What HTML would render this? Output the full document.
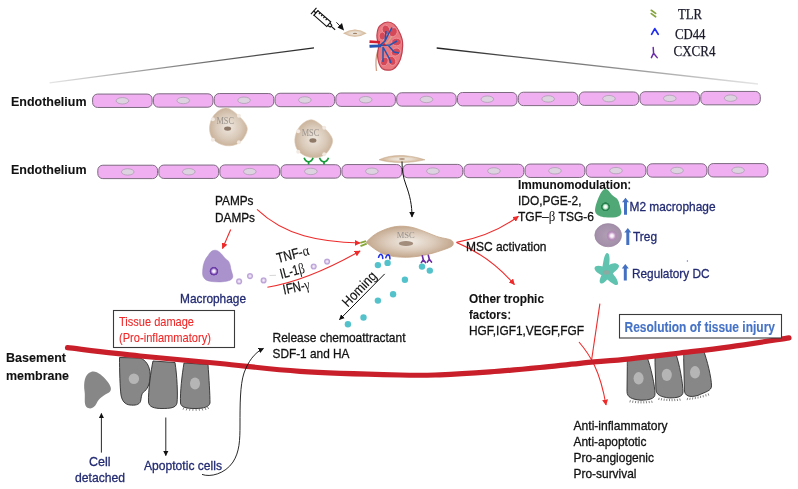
<!DOCTYPE html>
<html><head><meta charset="utf-8"><style>
html,body{margin:0;padding:0;background:#fff;}
svg{display:block;filter:blur(0.3px);}
</style></head><body>
<svg width="798" height="489" viewBox="0 0 798 489">

<defs>
<linearGradient id="lgL" gradientUnits="userSpaceOnUse" x1="49" y1="83" x2="314" y2="48"><stop offset="0" stop-color="#e6e6e6"/><stop offset="1" stop-color="#222"/></linearGradient>
<linearGradient id="lgR" gradientUnits="userSpaceOnUse" x1="437" y1="48" x2="758" y2="84"><stop offset="0" stop-color="#222"/><stop offset="1" stop-color="#e6e6e6"/></linearGradient>
<radialGradient id="msc" cx="0.5" cy="0.5" r="0.55"><stop offset="0" stop-color="#efe8e0"/><stop offset="0.6" stop-color="#d9c9b8"/><stop offset="1" stop-color="#c6ad94"/></radialGradient>
<radialGradient id="mscL" cx="0.5" cy="0.5" r="0.5"><stop offset="0" stop-color="#f2ede6"/><stop offset="0.55" stop-color="#dccbbb"/><stop offset="1" stop-color="#c3a78d"/></radialGradient>
<radialGradient id="spin" cx="0.5" cy="0.5" r="0.5"><stop offset="0" stop-color="#f2eee9"/><stop offset="0.45" stop-color="#e6dacb"/><stop offset="1" stop-color="#cfac88"/></radialGradient>
<radialGradient id="ring" cx="0.5" cy="0.5" r="0.5"><stop offset="0" stop-color="#f8f4fc"/><stop offset="0.35" stop-color="#e4d6f0"/><stop offset="0.75" stop-color="#b9a0d6"/><stop offset="1" stop-color="#c8b4e0"/></radialGradient>
<radialGradient id="mnuc" cx="0.5" cy="0.5" r="0.5"><stop offset="0" stop-color="#ffffff"/><stop offset="0.3" stop-color="#e6dcf2"/><stop offset="0.55" stop-color="#a580cc"/><stop offset="0.7" stop-color="#6a3ea6"/><stop offset="0.9" stop-color="#6a3ea6"/><stop offset="1" stop-color="#a68cc9"/></radialGradient>
<radialGradient id="gnuc" cx="0.5" cy="0.5" r="0.5"><stop offset="0" stop-color="#ffffff"/><stop offset="0.3" stop-color="#eef8f0"/><stop offset="0.55" stop-color="#8ccaa4"/><stop offset="0.7" stop-color="#2a8250"/><stop offset="0.92" stop-color="#2a8250"/><stop offset="1" stop-color="#4fa876"/></radialGradient>
<radialGradient id="treg" cx="0.5" cy="0.5" r="0.5"><stop offset="0" stop-color="#b2a0b6"/><stop offset="1" stop-color="#a28ea8"/></radialGradient>
<radialGradient id="tnuc" cx="0.5" cy="0.5" r="0.5"><stop offset="0" stop-color="#ffffff"/><stop offset="0.3" stop-color="#f4e8f4"/><stop offset="0.7" stop-color="#b990bd"/><stop offset="1" stop-color="#a889ac"/></radialGradient>
<marker id="ah" viewBox="0 0 10 10" refX="9" refY="5" markerWidth="7" markerHeight="7" orient="auto" markerUnits="userSpaceOnUse"><path d="M0,0 L10,5 L0,10 z" fill="#111"/></marker>
<marker id="ahr" viewBox="0 0 10 10" refX="9" refY="5" markerWidth="6" markerHeight="6" orient="auto" markerUnits="userSpaceOnUse"><path d="M0,0 L10,5 L0,10 z" fill="#ee2b2b"/></marker>
<marker id="ahb" viewBox="0 0 10 10" refX="9" refY="5" markerWidth="5.5" markerHeight="5.5" orient="auto" markerUnits="userSpaceOnUse"><path d="M0,0 L10,5 L0,10 z" fill="#111"/></marker>
</defs>
<line x1="49.6" y1="82.9" x2="314" y2="47.8" stroke="url(#lgL)" stroke-width="1.3"/>
<line x1="436.7" y1="48" x2="758" y2="84" stroke="url(#lgR)" stroke-width="1.3"/>
<rect x="92.60" y="94.07" width="59.52" height="13.4" rx="5" ry="5" fill="#efaff1" stroke="#7d6a80" stroke-width="1"/>
<ellipse cx="122.41" cy="100.77" rx="6.3" ry="3.2" fill="#ddd3e0" stroke="#a898ac" stroke-width="0.7"/>
<rect x="153.42" y="93.80" width="59.52" height="13.4" rx="5" ry="5" fill="#efaff1" stroke="#7d6a80" stroke-width="1"/>
<ellipse cx="183.23" cy="100.50" rx="6.3" ry="3.2" fill="#ddd3e0" stroke="#a898ac" stroke-width="0.7"/>
<rect x="214.24" y="93.54" width="59.52" height="13.4" rx="5" ry="5" fill="#efaff1" stroke="#7d6a80" stroke-width="1"/>
<ellipse cx="244.05" cy="100.24" rx="6.3" ry="3.2" fill="#ddd3e0" stroke="#a898ac" stroke-width="0.7"/>
<rect x="275.05" y="93.28" width="59.52" height="13.4" rx="5" ry="5" fill="#efaff1" stroke="#7d6a80" stroke-width="1"/>
<ellipse cx="304.86" cy="99.98" rx="6.3" ry="3.2" fill="#ddd3e0" stroke="#a898ac" stroke-width="0.7"/>
<rect x="335.87" y="93.01" width="59.52" height="13.4" rx="5" ry="5" fill="#efaff1" stroke="#7d6a80" stroke-width="1"/>
<ellipse cx="365.68" cy="99.71" rx="6.3" ry="3.2" fill="#ddd3e0" stroke="#a898ac" stroke-width="0.7"/>
<rect x="396.69" y="92.75" width="59.52" height="13.4" rx="5" ry="5" fill="#efaff1" stroke="#7d6a80" stroke-width="1"/>
<ellipse cx="426.50" cy="99.45" rx="6.3" ry="3.2" fill="#ddd3e0" stroke="#a898ac" stroke-width="0.7"/>
<rect x="457.51" y="92.49" width="59.52" height="13.4" rx="5" ry="5" fill="#efaff1" stroke="#7d6a80" stroke-width="1"/>
<ellipse cx="487.32" cy="99.19" rx="6.3" ry="3.2" fill="#ddd3e0" stroke="#a898ac" stroke-width="0.7"/>
<rect x="518.33" y="92.22" width="59.52" height="13.4" rx="5" ry="5" fill="#efaff1" stroke="#7d6a80" stroke-width="1"/>
<ellipse cx="548.14" cy="98.92" rx="6.3" ry="3.2" fill="#ddd3e0" stroke="#a898ac" stroke-width="0.7"/>
<rect x="579.15" y="91.96" width="59.52" height="13.4" rx="5" ry="5" fill="#efaff1" stroke="#7d6a80" stroke-width="1"/>
<ellipse cx="608.95" cy="98.66" rx="6.3" ry="3.2" fill="#ddd3e0" stroke="#a898ac" stroke-width="0.7"/>
<rect x="639.96" y="91.70" width="59.52" height="13.4" rx="5" ry="5" fill="#efaff1" stroke="#7d6a80" stroke-width="1"/>
<ellipse cx="669.77" cy="98.40" rx="6.3" ry="3.2" fill="#ddd3e0" stroke="#a898ac" stroke-width="0.7"/>
<rect x="700.78" y="91.43" width="59.52" height="13.4" rx="5" ry="5" fill="#efaff1" stroke="#7d6a80" stroke-width="1"/>
<ellipse cx="730.59" cy="98.13" rx="6.3" ry="3.2" fill="#ddd3e0" stroke="#a898ac" stroke-width="0.7"/>
<rect x="97.80" y="165.22" width="59.74" height="13.4" rx="5" ry="5" fill="#efaff1" stroke="#7d6a80" stroke-width="1"/>
<ellipse cx="127.72" cy="171.92" rx="6.3" ry="3.2" fill="#ddd3e0" stroke="#a898ac" stroke-width="0.7"/>
<rect x="158.84" y="165.05" width="59.74" height="13.4" rx="5" ry="5" fill="#efaff1" stroke="#7d6a80" stroke-width="1"/>
<ellipse cx="188.75" cy="171.75" rx="6.3" ry="3.2" fill="#ddd3e0" stroke="#a898ac" stroke-width="0.7"/>
<rect x="219.87" y="164.89" width="59.74" height="13.4" rx="5" ry="5" fill="#efaff1" stroke="#7d6a80" stroke-width="1"/>
<ellipse cx="249.79" cy="171.59" rx="6.3" ry="3.2" fill="#ddd3e0" stroke="#a898ac" stroke-width="0.7"/>
<rect x="280.91" y="164.73" width="59.74" height="13.4" rx="5" ry="5" fill="#efaff1" stroke="#7d6a80" stroke-width="1"/>
<ellipse cx="310.83" cy="171.43" rx="6.3" ry="3.2" fill="#ddd3e0" stroke="#a898ac" stroke-width="0.7"/>
<rect x="341.95" y="164.56" width="59.74" height="13.4" rx="5" ry="5" fill="#efaff1" stroke="#7d6a80" stroke-width="1"/>
<ellipse cx="371.86" cy="171.26" rx="6.3" ry="3.2" fill="#ddd3e0" stroke="#a898ac" stroke-width="0.7"/>
<rect x="402.98" y="164.40" width="59.74" height="13.4" rx="5" ry="5" fill="#efaff1" stroke="#7d6a80" stroke-width="1"/>
<ellipse cx="432.90" cy="171.10" rx="6.3" ry="3.2" fill="#ddd3e0" stroke="#a898ac" stroke-width="0.7"/>
<rect x="464.02" y="164.24" width="59.74" height="13.4" rx="5" ry="5" fill="#efaff1" stroke="#7d6a80" stroke-width="1"/>
<ellipse cx="493.94" cy="170.94" rx="6.3" ry="3.2" fill="#ddd3e0" stroke="#a898ac" stroke-width="0.7"/>
<rect x="525.05" y="164.07" width="59.74" height="13.4" rx="5" ry="5" fill="#efaff1" stroke="#7d6a80" stroke-width="1"/>
<ellipse cx="554.97" cy="170.77" rx="6.3" ry="3.2" fill="#ddd3e0" stroke="#a898ac" stroke-width="0.7"/>
<rect x="586.09" y="163.91" width="59.74" height="13.4" rx="5" ry="5" fill="#efaff1" stroke="#7d6a80" stroke-width="1"/>
<ellipse cx="616.01" cy="170.61" rx="6.3" ry="3.2" fill="#ddd3e0" stroke="#a898ac" stroke-width="0.7"/>
<rect x="647.13" y="163.75" width="59.74" height="13.4" rx="5" ry="5" fill="#efaff1" stroke="#7d6a80" stroke-width="1"/>
<ellipse cx="677.05" cy="170.45" rx="6.3" ry="3.2" fill="#ddd3e0" stroke="#a898ac" stroke-width="0.7"/>
<rect x="708.16" y="163.58" width="59.74" height="13.4" rx="5" ry="5" fill="#efaff1" stroke="#7d6a80" stroke-width="1"/>
<ellipse cx="738.08" cy="170.28" rx="6.3" ry="3.2" fill="#ddd3e0" stroke="#a898ac" stroke-width="0.7"/>
<path d="M651.3,10.3 L655.6,13.4 M651.3,13.6 L655.6,16.8" stroke="#86a43e" stroke-width="1.7" stroke-linecap="round"/>
<path d="M651.6,34.3 L654.8,28.6 L658.2,34.3" stroke="#1f2ef0" stroke-width="1.7" fill="none" stroke-linecap="round" stroke-linejoin="round"/>
<path d="M653.2,47.5 L653.6,53.2 M653.6,53.2 L651.4,57.6 M653.6,53.2 L657.2,57.6" stroke="#6a2ca8" stroke-width="1.5" fill="none" stroke-linecap="round"/>
<g transform="translate(313.7,11) rotate(41.2)" fill="none" stroke="#111" stroke-width="1.1"><line x1="0" y1="-4.2" x2="0" y2="4.2"/><line x1="0" y1="0" x2="3" y2="0"/><line x1="3" y1="-3.6" x2="3" y2="3.6"/><rect x="3" y="-3" width="17" height="6" fill="#fff"/><path d="M6,-3 v2 M9,-3 v2 M12,-3 v2 M15,-3 v2"/><path d="M20,-1.8 L23,-1.2 L23,1.2 L20,1.8"/><line x1="23" y1="0" x2="28.5" y2="0"/></g>
<line x1="336.4" y1="22.3" x2="340" y2="26" stroke="#111" stroke-width="0.9"/>
<path d="M344,30.5 L337.5,27.5 L342,23 z" fill="#111"/>
<path d="M343,33.2 Q355,26 366.7,33.2 Q355,40.4 343,33.2 z" fill="url(#spin)"/>
<ellipse cx="355" cy="33.4" rx="2.2" ry="0.6" fill="#a08060"/>
<path d="M378,50 C376,56 375.5,64 376.5,71" stroke="#d0a088" stroke-width="1.3" fill="none"/>
<path d="M387.8,22 C393,22 397,27 399.2,31.7 C401.5,36 402.8,41 402.7,45.5 C402.6,51 401.8,55 400.4,59.2 C398.5,64 394.5,69.5 390,70.1 C386.5,70.5 384,69.8 382,68.4 C379.5,66 378,61 377.5,55.8 C377.3,52 378.6,49.5 378.6,46.6 C378.6,43 376.6,39.5 376.9,35.2 C377.2,30 378.2,26.5 380.9,24.9 C383,23 385.5,22 387.8,22 z" fill="#e9787f" stroke="#c04050" stroke-width="1.2"/>
<ellipse cx="386" cy="29.8" rx="3.8" ry="4.8" transform="rotate(-20 386 29.8)" fill="#d44858" stroke="#f09aa2" stroke-width="0.8"/>
<ellipse cx="393.2" cy="32.2" rx="3.8" ry="4.8" transform="rotate(30 393.2 32.2)" fill="#d44858" stroke="#f09aa2" stroke-width="0.8"/>
<ellipse cx="396.5" cy="42" rx="4.8" ry="3.8" transform="rotate(0 396.5 42)" fill="#d44858" stroke="#f09aa2" stroke-width="0.8"/>
<ellipse cx="395.8" cy="52" rx="4.8" ry="3.8" transform="rotate(-25 395.8 52)" fill="#d44858" stroke="#f09aa2" stroke-width="0.8"/>
<ellipse cx="391.8" cy="60.8" rx="3.8" ry="4.8" transform="rotate(-30 391.8 60.8)" fill="#d44858" stroke="#f09aa2" stroke-width="0.8"/>
<ellipse cx="384.4" cy="61.5" rx="3.5" ry="4.5" transform="rotate(20 384.4 61.5)" fill="#d44858" stroke="#f09aa2" stroke-width="0.8"/>
<ellipse cx="382.3" cy="36" rx="3.2" ry="4" transform="rotate(0 382.3 36)" fill="#d44858" stroke="#f09aa2" stroke-width="0.8"/>
<path d="M382,46 L386,44.5 L391,47 M385,45 C388,42 390,40 392,36" stroke="#d4a488" stroke-width="1.6" fill="none"/>
<path d="M370,46.5 L380,45.5 L385,41 L389,33 L392,27.5 M385,41 L386,31 M380,45.5 L390,45 L397,41 M388,45 L394,52 L399,53 M383,47 L389,58 L391,63 M383,47 L383,62" stroke="#2355b0" stroke-width="1.5" fill="none"/>
<path d="M369.5,46.3 L381,45.8" stroke="#2355b0" stroke-width="3"/>
<path d="M369.5,41.6 L380,42.3" stroke="#d41f30" stroke-width="2.8"/>
<path d="M369.5,43.7 L378,44" stroke="#f3f3f8" stroke-width="0.8"/>
<circle cx="384" cy="44.5" r="1.3" fill="#d41f30"/>
<path d="M226.00,107.90 C221.93,107.72 217.05,111.52 214.30,114.80 C211.55,118.08 209.68,123.52 209.50,127.60 C209.32,131.68 210.45,136.28 213.20,139.30 C215.95,142.32 221.57,145.17 226.00,145.70 C230.43,146.23 236.25,145.35 239.80,142.50 C243.35,139.65 247.48,133.03 247.30,128.60 C247.12,124.17 242.25,119.35 238.70,115.90 C235.15,112.45 230.07,108.08 226.00,107.90 z" fill="url(#msc)" stroke="#dcc8b2" stroke-width="0.6"/>
<circle cx="212.9" cy="119.3" r="2" fill="#f1e9e2"/>
<circle cx="238.9" cy="115.8" r="2" fill="#f1e9e2"/>
<circle cx="212.9" cy="139.8" r="2" fill="#f1e9e2"/>
<circle cx="238.9" cy="142.3" r="2" fill="#f1e9e2"/>
<ellipse cx="227.6" cy="128.6" rx="3.5" ry="2.2" fill="#8e7868"/>
<text x="225.20000000000002" y="123.8" font-family="Liberation Serif" font-size="9.5" fill="#9a948e" text-anchor="middle" textLength="17.6" lengthAdjust="spacingAndGlyphs">MSC</text>
<path d="M311.30,119.80 C307.23,119.62 302.35,123.42 299.60,126.70 C296.85,129.98 294.98,135.42 294.80,139.50 C294.62,143.58 295.75,148.18 298.50,151.20 C301.25,154.22 306.87,157.07 311.30,157.60 C315.73,158.13 321.55,157.25 325.10,154.40 C328.65,151.55 332.78,144.93 332.60,140.50 C332.42,136.07 327.55,131.25 324.00,127.80 C320.45,124.35 315.37,119.98 311.30,119.80 z" fill="url(#msc)" stroke="#dcc8b2" stroke-width="0.6"/>
<circle cx="298.2" cy="131.2" r="2" fill="#f1e9e2"/>
<circle cx="324.2" cy="127.69999999999999" r="2" fill="#f1e9e2"/>
<circle cx="298.2" cy="151.7" r="2" fill="#f1e9e2"/>
<circle cx="324.2" cy="154.2" r="2" fill="#f1e9e2"/>
<ellipse cx="312.9" cy="140.5" rx="3.5" ry="2.2" fill="#8e7868"/>
<text x="310.5" y="135.7" font-family="Liberation Serif" font-size="9.5" fill="#9a948e" text-anchor="middle" textLength="17.6" lengthAdjust="spacingAndGlyphs">MSC</text>
<path d="M304.1,157.8 Q305.6,161.8 308.6,161.8 Q311.6,161.8 313.1,157.8 M308.6,161.5 L308.6,164.5" stroke="#179a3a" stroke-width="1.7" fill="none"/>
<path d="M319.5,157.8 Q321,161.8 324,161.8 Q327,161.8 328.5,157.8 M324,161.5 L324,164.5" stroke="#179a3a" stroke-width="1.7" fill="none"/>
<path d="M379,159.8 C388,155.5 398,155 408,156 C416,157 421,158.5 425,159.8 C418,161.5 408,162.8 400,162.6 C392,162.4 385,161.5 379,159.8 z" fill="url(#spin)" stroke="#c4aa90" stroke-width="0.5"/>
<ellipse cx="402" cy="159" rx="3" ry="0.9" fill="#b59a84"/>
<path d="M402,161.5 C402,170 403,177 406,185 C410,196 412,205 412,217" stroke="#111" stroke-width="1" fill="none" marker-end="url(#ahb)"/>
<path d="M366.2,242.3 C370,238 375,233.5 381.3,231 C388,228 394,226.3 400,226.2 C406,226.1 410,226.8 414.2,227.9 C421,229.8 429,233.5 436.6,236.4 C444,239 452.5,238.5 453.2,242.5 C453.8,246 451,247 447,248.5 C440,251 434,253 428.7,254.2 C421,256 413,257.3 406.3,257.3 C398,257.3 391,256.5 385.3,254.6 C378,252 371,246.5 366.2,242.3 z" fill="url(#mscL)" stroke="#c4a486" stroke-width="0.8"/>
<ellipse cx="406" cy="243.4" rx="7.2" ry="2.5" fill="#a28c7c"/>
<text x="405.8" y="237.7" font-family="Liberation Serif" font-size="9" fill="#96918c" text-anchor="middle" textLength="18" lengthAdjust="spacingAndGlyphs">MSC</text>
<path d="M360.3,242.8 L366,241.2 M360.5,246.1 L366.7,243.6" stroke="#86a83a" stroke-width="1.9"/>
<path d="M378.6,257.3 Q379.6,253.8 381.1,254.20000000000002 Q382.6,254.8 382.8,258.40000000000003" stroke="#2030e8" stroke-width="1.5" fill="none" stroke-linecap="round"/>
<path d="M385.8,257.8 Q386.8,254.3 388.3,254.70000000000002 Q389.8,255.3 390,258.90000000000003" stroke="#2030e8" stroke-width="1.5" fill="none" stroke-linecap="round"/>
<path d="M422.3,255.8 L423.3,259.8 M423.3,259.8 L421.3,262.6 M423.3,259.8 L425.5,262.6" stroke="#6a2aa0" stroke-width="1.6" fill="none" stroke-linecap="round"/>
<path d="M428.3,255.3 L429.3,259.3 M429.3,259.3 L427.3,262.1 M429.3,259.3 L431.5,262.1" stroke="#6a2aa0" stroke-width="1.6" fill="none" stroke-linecap="round"/>
<circle cx="377.9" cy="265.1" r="3.2" fill="#54c2cb"/>
<circle cx="387.6" cy="262.9" r="3.2" fill="#54c2cb"/>
<circle cx="422" cy="266.6" r="3.2" fill="#54c2cb"/>
<circle cx="429.8" cy="270.6" r="3.2" fill="#54c2cb"/>
<circle cx="404.9" cy="279.8" r="3.2" fill="#54c2cb"/>
<circle cx="393.1" cy="294.2" r="3.2" fill="#54c2cb"/>
<circle cx="377.9" cy="300.6" r="3.2" fill="#54c2cb"/>
<circle cx="363.5" cy="317.5" r="3.2" fill="#54c2cb"/>
<circle cx="347.9" cy="324.2" r="3.2" fill="#54c2cb"/>
<line x1="384.7" y1="273.9" x2="339.5" y2="319.7" stroke="#111" stroke-width="1" marker-end="url(#ahb)"/>
<path d="M214.9,250.2 C218,250 221,253 224.7,257.9 C227,260 230,260.5 230.8,268.6 C231.5,272 233,275 232.8,277 C232,281 226,281.5 220.6,281.9 C214,282 209,281.5 206,280 C202,277 202.5,274 202.7,270 C203,264 205,259 208.3,255.3 C210,252 212,250.3 214.9,250.2 z" fill="#aa92cd" stroke="#9c84c0" stroke-width="0.5"/>
<circle cx="213.9" cy="271.2" r="4.6" fill="url(#mnuc)"/>
<circle cx="239.1" cy="281.4" r="3.1" fill="url(#ring)"/>
<circle cx="250" cy="276.1" r="3.1" fill="url(#ring)"/>
<circle cx="263.6" cy="280.4" r="3.1" fill="url(#ring)"/>
<circle cx="313.7" cy="266.5" r="3.1" fill="url(#ring)"/>
<circle cx="327.1" cy="261.6" r="3.1" fill="url(#ring)"/>
<line x1="269.5" y1="275.5" x2="276" y2="275.3" stroke="#cccccc" stroke-width="0.8"/>
<path d="M257,209.4 C285,236 320,242 360,243" stroke="#ee2b2b" stroke-width="1.1" fill="none" marker-end="url(#ahr)"/>
<line x1="230.7" y1="229.5" x2="222.5" y2="248.5" stroke="#ee2b2b" stroke-width="1.1" marker-end="url(#ahr)"/>
<path d="M267.4,287.2 C300,282 330,268 360.1,251" stroke="#ee2b2b" stroke-width="1.1" fill="none" marker-end="url(#ahr)"/>
<path d="M456.5,242.4 C480,238 500,230 518.4,216.3" stroke="#ee2b2b" stroke-width="1.1" fill="none" marker-end="url(#ahr)"/>
<path d="M456.5,242.4 C475,250 495,262 514.4,284.6" stroke="#ee2b2b" stroke-width="1.1" fill="none" marker-end="url(#ahr)"/>
<line x1="599.9" y1="303.7" x2="591.6" y2="360" stroke="#ee2b2b" stroke-width="1.1"/>
<path d="M579,342 C590,355 600,370 606,405" stroke="#ee2b2b" stroke-width="1.1" fill="none" marker-end="url(#ahr)"/>
<path d="M605.2,189.1 C607,189 608.5,190.5 610,192.5 C612,195.5 614.5,197 616.8,198.5 C619,200.5 620,206 621.3,211 C622,214 620,216.5 616,217.2 C612,217.8 608,217.6 605.5,217.3 C601,217 596.5,215.5 595.3,212 C594.5,209 596,204 598,199 C600,194.5 602.5,189.2 605.2,189.1 z" fill="#4fa876"/>
<circle cx="605.5" cy="206.8" r="4.7" fill="url(#gnuc)"/>
<ellipse cx="608.2" cy="235.2" rx="13.4" ry="11.6" fill="url(#treg)" stroke="#9a84a0" stroke-width="0.6"/>
<circle cx="611.9" cy="235.8" r="5.2" fill="url(#tnuc)"/>
<path d="M607.3,253 C610,253.5 609.8,259 609.2,265 C612,263 616,262 618.8,265.2 C620,268 615,271.5 612.8,273.5 C615,276.5 619,281 617.8,284.6 C615.5,286.5 610.5,282 607.2,279.5 C605,282 602.5,284.5 600.5,283.2 C598.5,281.5 600.5,277.5 601.5,275.2 C598.5,273.5 594.5,271 594.5,268.2 C595,265 599.5,265.5 602.5,266.5 C603.5,261 604.5,252.8 607.3,253 z" fill="#5fc3af"/>
<ellipse cx="606.4" cy="272.4" rx="3.6" ry="2.2" fill="#8aaaa2"/>
<path d="M624.0,214.7 L624.0,202.3 L622.0,202.3 L625.5,197.8 L629.0,202.3 L627.0,202.3 L627.0,214.7 z" fill="#4470c2"/>
<path d="M626.3,245 L626.3,232.4 L624.3,232.4 L627.8,227.9 L631.3,232.4 L629.3,232.4 L629.3,245 z" fill="#4470c2"/>
<path d="M623.8,280.6 L623.8,268.4 L621.8,268.4 L625.3,263.9 L628.8,268.4 L626.8,268.4 L626.8,280.6 z" fill="#4470c2"/>
<circle cx="687.4" cy="261" r="0.7" fill="#5a7ac8"/>
<path d="M627.3,360.3 L646.8,356.5 C650.8,366.5 655,386 655,394 C655,399 649,400 641.0,400.2 C632,399.4 627,397.4 627,391.4 L627.3,366.3 C627.3,362.3 627.3,360.3 627.3,360.3 z" fill="#878787" stroke="#2e2e2e" stroke-width="0.9"/>
<ellipse cx="638.6" cy="378.3" rx="5" ry="6.2" fill="#b5b5b5"/>
<path d="M630.4,400.2 l-0.57,2.2 M633.0,400.6 l-0.43,2.2 M635.7,400.9 l-0.29,2.2 M638.3,401.1 l-0.14,2.2 M641.0,401.2 l0.00,2.2 M643.7,401.2 l0.14,2.2 M646.3,401.1 l0.29,2.2 M649.0,400.9 l0.43,2.2 M651.6,400.7 l0.57,2.2 " stroke="#333" stroke-width="0.6" fill="none"/>
<path d="M655,356.5 L675.4,352.8 C679.4,362.8 683,383.9 683,391.9 C683,396.9 677,397.9 669.45,397.95 C660.9,397 655.9,395 655.9,389 L655,362.5 C655,358.5 655,356.5 655,356.5 z" fill="#878787" stroke="#2e2e2e" stroke-width="0.9"/>
<ellipse cx="666.8" cy="374.9" rx="5" ry="6.2" fill="#b5b5b5"/>
<path d="M659.2,397.8 l-0.57,2.2 M661.7,398.2 l-0.43,2.2 M664.3,398.6 l-0.29,2.2 M666.9,398.8 l-0.14,2.2 M669.5,398.9 l0.00,2.2 M672.0,399.0 l0.14,2.2 M674.6,398.9 l0.29,2.2 M677.2,398.8 l0.43,2.2 M679.7,398.5 l0.57,2.2 " stroke="#333" stroke-width="0.6" fill="none"/>
<path d="M683.7,352.8 L703.2,349.8 C707.2,359.8 711.5,377.9 711.5,385.9 C711.5,390.9 705.5,391.9 697.95,395.4 C689.4,397.9 684.4,395.9 684.4,389.9 L683.7,358.8 C683.7,354.8 683.7,352.8 683.7,352.8 z" fill="#878787" stroke="#2e2e2e" stroke-width="0.9"/>
<ellipse cx="695" cy="372.3" rx="5" ry="6.2" fill="#b5b5b5"/>
<path d="M687.7,397.9 l-0.57,2.2 M690.2,397.7 l-0.43,2.2 M692.8,397.3 l-0.29,2.2 M695.4,396.9 l-0.14,2.2 M698.0,396.4 l0.00,2.2 M700.5,395.8 l0.14,2.2 M703.1,395.1 l0.29,2.2 M705.7,394.2 l0.43,2.2 M708.2,393.4 l0.57,2.2 " stroke="#333" stroke-width="0.6" fill="none"/>
<path d="M91,372 C96,370 102,375 107,381 C111,386 112.5,390 109,392.5 C104,395 99,398 96.5,403.5 C94.5,408 90,410 86.5,407 C83.5,404 85.5,397 84.5,391 C83.5,383 84.5,374 91,372 z" fill="#878787"/>
<path d="M119.5,357.5 L140,358 C146,360 150,366 150.2,375 C150.3,384 147,390 143.5,392 C141,394 141.5,398 140.5,401.5 C139,405 135,405.5 130,405 C125,404.5 122,401 121,395 C120,388 119.5,370 119.5,357.5 z" fill="#878787" stroke="#2e2e2e" stroke-width="0.9"/>
<circle cx="133.9" cy="378.8" r="5.2" fill="#b5b5b5"/>
<path d="M153,361 L175,362.5 C177,375 178,395 177,403 C176,408 170,408.5 162,408.5 C154,408.5 149,407 148.5,402 C148,392 151,370 153,361 z" fill="#878787" stroke="#2e2e2e" stroke-width="0.9"/>
<path d="M184,363 L208,364.5 C209,378 210,395 210,403 C209,407 204,408.5 195,408.5 C187,408.5 181,407.5 180.5,403 C180,392 182,375 184,363 z" fill="#878787" stroke="#2e2e2e" stroke-width="0.9"/>
<ellipse cx="195" cy="383.5" rx="5" ry="6" fill="#b5b5b5"/>
<path d="M184,407.5 l-1,2.2 M187,408.2 l-0.8,2.2 M190,408.5 l-0.5,2.2 M193,408.6 l-0.2,2.2 M196,408.6 l0.2,2.2 M199,408.5 l0.5,2.2 M202,408.3 l0.8,2.2 M205,407.8 l1,2.2 M207.5,407 l1.2,2" stroke="#333" stroke-width="0.6" fill="none"/>
<path d="M67.5,347.7 C79.58,349.08 114.58,353.37 140,356 C165.42,358.63 193.33,360.95 220,363.5 C246.67,366.05 270.00,369.38 300,371.3 C330.00,373.22 376.67,374.42 400,375 C423.33,375.58 425.00,375.32 440,374.8 C455.00,374.28 473.33,373.12 490,371.9 C506.67,370.68 525.00,368.93 540,367.5 C555.00,366.07 565.00,364.75 580,363.3 C595.00,361.85 613.33,360.52 630,358.8 C646.67,357.08 663.33,355.00 680,353 C696.67,351.00 711.83,349.32 730,346.8 C748.17,344.28 779.17,339.38 789,337.9 " stroke="#c81f2a" stroke-width="5.2" fill="none" stroke-linecap="round"/>
<line x1="101.4" y1="452.6" x2="101.4" y2="413.5" stroke="#111" stroke-width="0.9" marker-end="url(#ahb)"/>
<line x1="165.8" y1="417.5" x2="165.8" y2="455.6" stroke="#111" stroke-width="0.9" marker-end="url(#ahb)"/>
<path d="M202,474.4 C210,477.5 225,474 233,462 C239.5,452 240,440 240,425 C240,405 240,385 244,373 C248,362 254,353 263.5,348.4" stroke="#111" stroke-width="0.9" fill="none" marker-end="url(#ahb)"/>
<rect x="113.5" y="310.5" width="121" height="37" fill="#fff" stroke="#3a3a3a" stroke-width="1.1"/>
<rect x="619.5" y="314.5" width="162" height="23.5" fill="#fff" stroke="#3a3a3a" stroke-width="1.1"/>
<text x="11" y="105.8" font-family="Liberation Sans" font-size="13.6" font-weight="bold" fill="#111" stroke="#111" stroke-width="0.1" textLength="75.5" lengthAdjust="spacingAndGlyphs" >Endothelium</text>
<text x="11" y="174" font-family="Liberation Sans" font-size="13.6" font-weight="bold" fill="#111" stroke="#111" stroke-width="0.1" textLength="75.5" lengthAdjust="spacingAndGlyphs" >Endothelium</text>
<text x="6" y="362.2" font-family="Liberation Sans" font-size="13.5" font-weight="bold" fill="#111" stroke="#111" stroke-width="0.1" textLength="60" lengthAdjust="spacingAndGlyphs" >Basement</text>
<text x="6" y="379.8" font-family="Liberation Sans" font-size="13.5" font-weight="bold" fill="#111" stroke="#111" stroke-width="0.1" textLength="63" lengthAdjust="spacingAndGlyphs" >membrane</text>
<text x="678" y="19" font-family="Liberation Serif" font-size="14" font-weight="normal" fill="#1a1a2a" stroke="#1a1a2a" stroke-width="0.25" textLength="24" lengthAdjust="spacingAndGlyphs" >TLR</text>
<text x="675" y="38.6" font-family="Liberation Serif" font-size="14.2" font-weight="normal" fill="#1a1a2a" stroke="#1a1a2a" stroke-width="0.25" textLength="30.5" lengthAdjust="spacingAndGlyphs" >CD44</text>
<text x="673.5" y="56.4" font-family="Liberation Serif" font-size="14" font-weight="normal" fill="#1a1a2a" stroke="#1a1a2a" stroke-width="0.25" textLength="42" lengthAdjust="spacingAndGlyphs" >CXCR4</text>
<text x="215" y="205" font-family="Liberation Sans" font-size="13.5" font-weight="normal" fill="#111" stroke="#111" stroke-width="0.3" textLength="38.5" lengthAdjust="spacingAndGlyphs" >PAMPs</text>
<text x="215" y="221.6" font-family="Liberation Sans" font-size="13.5" font-weight="normal" fill="#111" stroke="#111" stroke-width="0.3" textLength="40" lengthAdjust="spacingAndGlyphs" >DAMPs</text>
<text x="180" y="302.6" font-family="Liberation Sans" font-size="13.4" font-weight="normal" fill="#222a72" stroke="#222a72" stroke-width="0.3" textLength="66" lengthAdjust="spacingAndGlyphs" >Macrophage</text>
<text x="119" y="326.3" font-family="Liberation Sans" font-size="12.2" font-weight="normal" fill="#f02828" stroke="#f02828" stroke-width="0.1" textLength="75" lengthAdjust="spacingAndGlyphs" >Tissue damage</text>
<text x="119" y="341.5" font-family="Liberation Sans" font-size="12.2" font-weight="normal" fill="#f02828" stroke="#f02828" stroke-width="0.1" textLength="92" lengthAdjust="spacingAndGlyphs" >(Pro-inflammatory)</text>
<text x="272.5" y="341.7" font-family="Liberation Sans" font-size="13.5" font-weight="normal" fill="#111" stroke="#111" stroke-width="0.3" textLength="133" lengthAdjust="spacingAndGlyphs" >Release chemoattractant</text>
<text x="272.5" y="357.7" font-family="Liberation Sans" font-size="13.5" font-weight="normal" fill="#111" stroke="#111" stroke-width="0.3" textLength="77" lengthAdjust="spacingAndGlyphs" >SDF-1 and HA</text>
<text x="89" y="466.4" font-family="Liberation Sans" font-size="13.4" font-weight="normal" fill="#222a72" stroke="#222a72" stroke-width="0.3" textLength="21.5" lengthAdjust="spacingAndGlyphs" >Cell</text>
<text x="75" y="482.2" font-family="Liberation Sans" font-size="13.4" font-weight="normal" fill="#222a72" stroke="#222a72" stroke-width="0.3" textLength="50" lengthAdjust="spacingAndGlyphs" >detached</text>
<text x="144" y="470.2" font-family="Liberation Sans" font-size="13.4" font-weight="normal" fill="#222a72" stroke="#222a72" stroke-width="0.3" textLength="78" lengthAdjust="spacingAndGlyphs" >Apoptotic cells</text>
<text x="518" y="188.5" font-family="Liberation Sans" font-size="13" font-weight="bold" fill="#111" stroke="#111" stroke-width="0.1" textLength="109.5" lengthAdjust="spacingAndGlyphs" >Immunomodulation</text>
<text x="627.5" y="188.5" font-family="Liberation Sans" font-size="13" font-weight="normal" fill="#111" stroke="#111" stroke-width="0.3" >:</text>
<text x="518" y="205.1" font-family="Liberation Sans" font-size="13.5" font-weight="normal" fill="#111" stroke="#111" stroke-width="0.3" textLength="63.5" lengthAdjust="spacingAndGlyphs" >IDO,PGE-2,</text>
<text x="518" y="220.7" font-family="Liberation Sans" font-size="13.5" font-weight="normal" fill="#111" stroke="#111" stroke-width="0.3" textLength="76" lengthAdjust="spacingAndGlyphs" >TGF–<tspan font-family="Liberation Serif" font-size="14.5" stroke-width="0">β</tspan> TSG-6</text>
<text x="466" y="250.9" font-family="Liberation Sans" font-size="13" font-weight="normal" fill="#111" stroke="#111" stroke-width="0.3" textLength="80.5" lengthAdjust="spacingAndGlyphs" >MSC activation</text>
<text x="469" y="303.2" font-family="Liberation Sans" font-size="13" font-weight="bold" fill="#111" stroke="#111" stroke-width="0.1" textLength="75" lengthAdjust="spacingAndGlyphs" >Other trophic</text>
<text x="469" y="318.7" font-family="Liberation Sans" font-size="13" font-weight="bold" fill="#111" stroke="#111" stroke-width="0.1" textLength="38" lengthAdjust="spacingAndGlyphs" >factors</text>
<text x="507.5" y="318.7" font-family="Liberation Sans" font-size="13" font-weight="normal" fill="#111" stroke="#111" stroke-width="0.3" >:</text>
<text x="469" y="334.6" font-family="Liberation Sans" font-size="13" font-weight="normal" fill="#111" stroke="#111" stroke-width="0.3" textLength="115" lengthAdjust="spacingAndGlyphs" >HGF,IGF1,VEGF,FGF</text>
<text x="629.5" y="210.8" font-family="Liberation Sans" font-size="13.4" font-weight="normal" fill="#222a72" stroke="#222a72" stroke-width="0.3" textLength="86" lengthAdjust="spacingAndGlyphs" >M2 macrophage</text>
<text x="633" y="241.2" font-family="Liberation Sans" font-size="13.4" font-weight="normal" fill="#222a72" stroke="#222a72" stroke-width="0.3" textLength="24" lengthAdjust="spacingAndGlyphs" >Treg</text>
<text x="632" y="277.9" font-family="Liberation Sans" font-size="13.4" font-weight="normal" fill="#222a72" stroke="#222a72" stroke-width="0.3" textLength="77.5" lengthAdjust="spacingAndGlyphs" >Regulatory DC</text>
<text x="624.5" y="331.6" font-family="Liberation Sans" font-size="14" font-weight="bold" fill="#4673c6" stroke="#4673c6" stroke-width="0.15" textLength="150.5" lengthAdjust="spacingAndGlyphs" >Resolution of tissue injury</text>
<text x="573.5" y="429.9" font-family="Liberation Sans" font-size="13" font-weight="normal" fill="#111" stroke="#111" stroke-width="0.3" textLength="94" lengthAdjust="spacingAndGlyphs" >Anti-inflammatory</text>
<text x="573.5" y="445.8" font-family="Liberation Sans" font-size="13" font-weight="normal" fill="#111" stroke="#111" stroke-width="0.3" textLength="73" lengthAdjust="spacingAndGlyphs" >Anti-apoptotic</text>
<text x="573.5" y="461.7" font-family="Liberation Sans" font-size="13" font-weight="normal" fill="#111" stroke="#111" stroke-width="0.3" textLength="80.5" lengthAdjust="spacingAndGlyphs" >Pro-angiogenic</text>
<text x="573.5" y="477.9" font-family="Liberation Sans" font-size="13" font-weight="normal" fill="#111" stroke="#111" stroke-width="0.3" textLength="63" lengthAdjust="spacingAndGlyphs" >Pro-survival</text>
<g transform="translate(278,263) rotate(-14.5)"><text x="0" y="0" font-family="Liberation Sans" font-size="14" fill="#111" stroke="#111" stroke-width="0.25" textLength="33" lengthAdjust="spacingAndGlyphs">TNF-<tspan font-family="Liberation Serif" font-size="15" stroke-width="0">α</tspan></text></g>
<g transform="translate(281.3,278.8) rotate(-14.5)"><text x="0" y="0" font-family="Liberation Sans" font-size="14" fill="#111" stroke="#111" stroke-width="0.25" textLength="25" lengthAdjust="spacingAndGlyphs">IL-1<tspan font-family="Liberation Serif" font-size="15" stroke-width="0">β</tspan></text></g>
<g transform="translate(284.1,294.5) rotate(-12)"><text x="0" y="0" font-family="Liberation Sans" font-size="14" fill="#111" stroke="#111" stroke-width="0.25" textLength="27" lengthAdjust="spacingAndGlyphs">IFN-<tspan font-family="Liberation Serif" font-size="15" stroke-width="0">γ</tspan></text></g>
<g transform="translate(359.2,288.9) rotate(-46)"><text x="0" y="4.8" text-anchor="middle" font-family="Liberation Sans" font-size="14" fill="#111" stroke="#111" stroke-width="0.1" textLength="43" lengthAdjust="spacingAndGlyphs">Homing</text></g>
</svg></body></html>
